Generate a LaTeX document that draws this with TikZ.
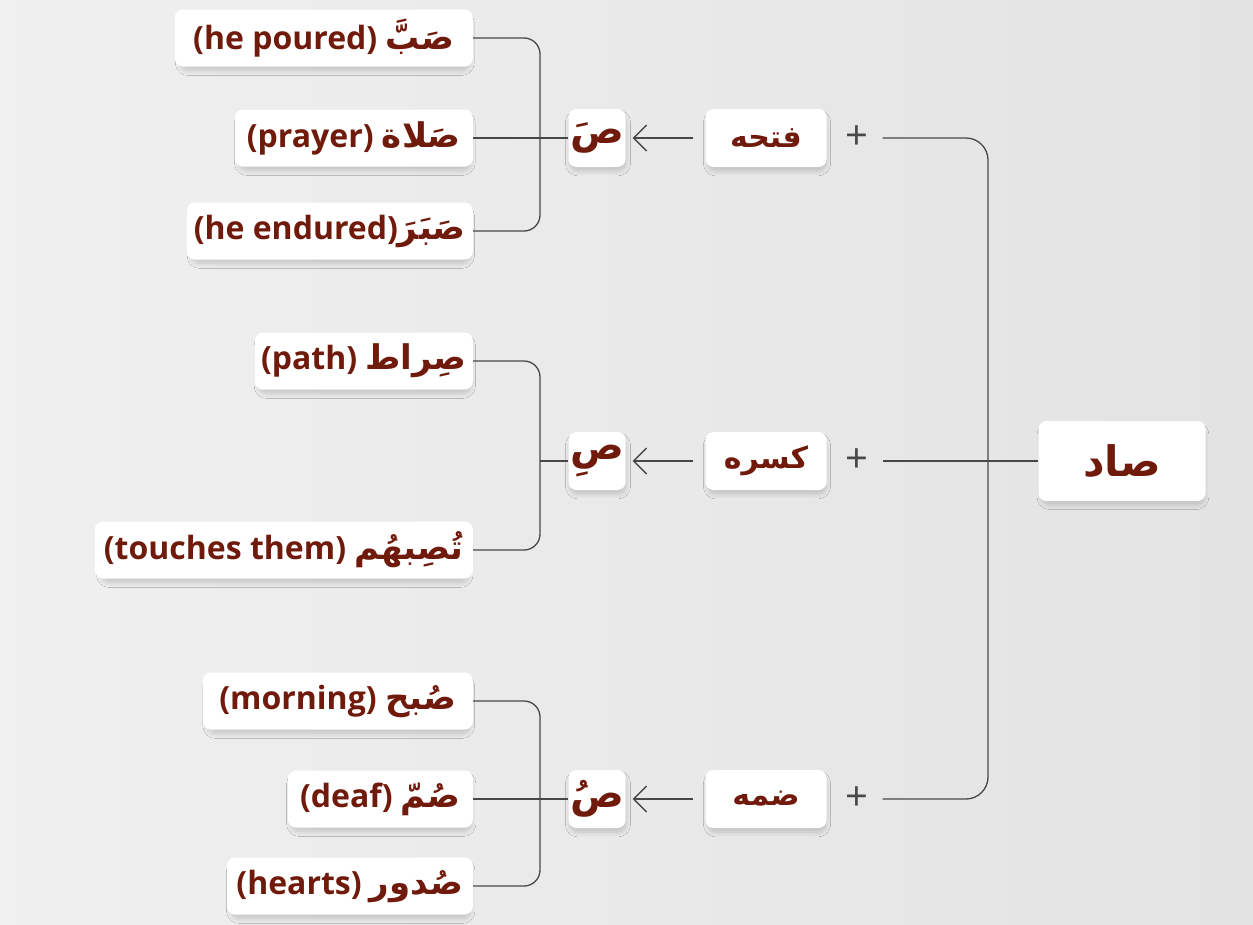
\documentclass[tikz,border=0pt]{standalone}
\usepackage{fontspec}
\setmainfont{Open Sans}[BoldFont={Open Sans Bold}]
\newfontfamily\arabicfont[Script=Arabic]{DejaVu Sans}
\TeXXeTstate=1
\usetikzlibrary{arrows.meta,shadows.blur}
\definecolor{txt}{RGB}{112,26,12}
\definecolor{ln}{RGB}{72,72,72}
\newcommand{\arw}[1]{{\arabicfont\bfseries\beginR #1\endR}}
\newcommand{\arx}[1]{{\arabicfont\bfseries\fontsize{34}{36}\selectfont\beginR #1\endR}}
\begin{document}
\begin{tikzpicture}[x=1pt,y=-1pt,
  card/.style={fill=white, rounded corners=8pt, text=txt, inner sep=0pt,
    blur shadow={shadow xshift=1pt, shadow yshift=-5pt, shadow scale=0.97, shadow blur steps=12, shadow blur radius=5pt, shadow opacity=18},
    align=center},
  word/.style={card, anchor=east, minimum height=57pt,
    font=\fontsize{32}{36}\selectfont\bfseries},
  letter/.style={card, minimum width=57pt, minimum height=58pt,
    font=\fontsize{40}{44}\selectfont},
  haraka/.style={card, minimum width=121pt, minimum height=58pt,
    font=\fontsize{30}{34}\selectfont},
  rootbox/.style={card, minimum width=167pt, minimum height=80pt,
    font=\fontsize{42}{48}\selectfont},
  plus/.style={inner sep=0pt, text=ln, font=\fontsize{40}{40}\selectfont\rmfamily},
  conn/.style={draw=ln, line width=1.3pt},
  arr/.style={conn, -{Straight Barb[length=13pt,width=26pt,line width=1.3pt]}}
]
\useasboundingbox (0,0) rectangle (1253,924);
\shade[left color=white!94!black, right color=white!89!black] (0,0) rectangle (1253,924);

% root
\node[rootbox] (sad) at (1122,461) {\arw{صاد}};

% harakat
\node[haraka] (fatha) at (766,138) {\arw{فتحه}};
\node[haraka] (kasra) at (766,461) {\arw{كسره}};
\node[haraka] (damma) at (766,799) {\arw{ضمه}};

\node[plus] (p1) at (857,138) {+};
\node[plus] (p2) at (857,461) {+};
\node[plus] (p3) at (857,799) {+};

% letters
\node[letter] (sf) at (597,138) {\arw{صَ}};
\node[letter] (sk) at (597,461) {\arw{صِ}};
\node[letter] (sd) at (597,799) {\arw{صُ}};

% words
\node[word, minimum width=298pt] (w1) at (473,38) {(he poured) \arx{صَبَّ}};
\node[word, minimum width=238pt] (w2) at (473,138) {(prayer) \arx{صَلاة}};
\node[word, minimum width=286pt] (w3) at (473,231) {(he endured)\arx{صَبَرَ}};
\node[word, minimum width=218pt] (w4) at (473,361) {(path) \arx{صِراط}};
\node[word, minimum width=378pt] (w5) at (473,550) {(touches them) \arx{تُصِبهُم}};
\node[word, minimum width=270pt] (w6) at (473,701) {(morning) \arx{صُبح}};
\node[word, minimum width=185pt] (w7) at (473,799) {(deaf) \arx{صُمّ}};
\node[word, minimum width=246pt] (w8) at (473,886) {(hearts) \arx{صُدور}};

% coordinates
\coordinate (vt) at (988,138);
\coordinate (vb) at (988,799);
\coordinate (b1t) at (540,38);
\coordinate (b1b) at (540,231);
\coordinate (b2t) at (540,361);
\coordinate (b2b) at (540,550);
\coordinate (b2m) at (540,461);
\coordinate (b3t) at (540,701);
\coordinate (b3b) at (540,886);

% right connector
\draw[conn, rounded corners=22pt, shorten <=14pt, shorten >=14pt] (p1.east) -- (vt) -- (vb) -- (p3.east);
\draw[conn, shorten >=14pt] (sad.west) -- (p2.east);

% arrows
\draw[arr, shorten <=12pt, shorten >=7pt] (fatha.west) -- (sf.east);
\draw[arr, shorten <=12pt, shorten >=7pt] (kasra.west) -- (sk.east);
\draw[arr, shorten <=12pt, shorten >=7pt] (damma.west) -- (sd.east);

% brackets
\draw[conn, rounded corners=16pt] (w1.east) -- (b1t) -- (b1b) -- (w3.east);
\draw[conn] (w2.east) -- (sf.west);
\draw[conn, rounded corners=16pt] (w4.east) -- (b2t) -- (b2b) -- (w5.east);
\draw[conn] (b2m) -- (sk.west);
\draw[conn, rounded corners=16pt] (w6.east) -- (b3t) -- (b3b) -- (w8.east);
\draw[conn] (w7.east) -- (sd.west);
\end{tikzpicture}
\end{document}
